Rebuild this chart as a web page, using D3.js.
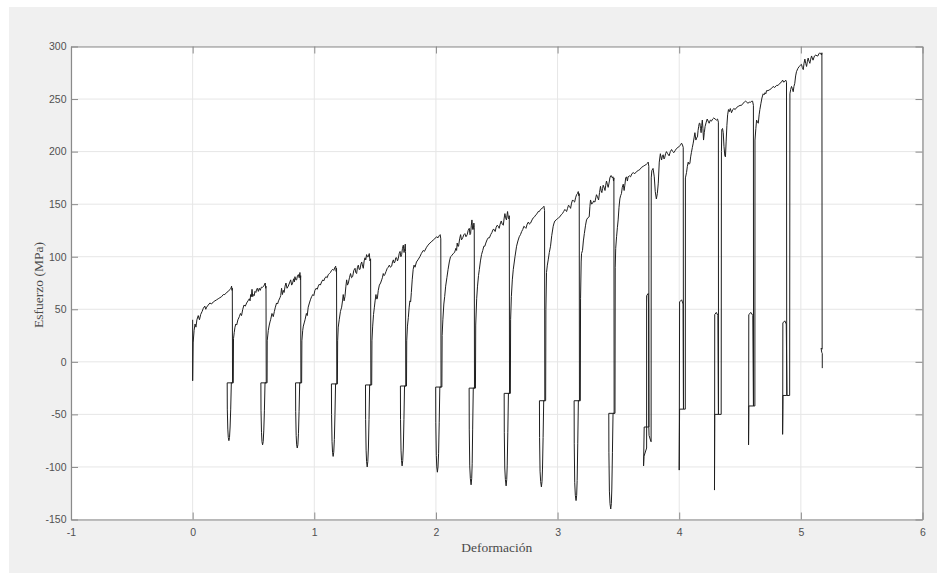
<!DOCTYPE html>
<html>
<head>
<meta charset="utf-8">
<script src="https://cdn.jsdelivr.net/npm/d3@7"></script>
<style>
  html, body { margin: 0; padding: 0; background: #ffffff; }
  svg { display: block; }
</style>
</head>
<body>
<svg id="chart" width="937" height="574"></svg>
<script>
// ---------- data ----------
const xTicks = [-1, 0, 1, 2, 3, 4, 5, 6];
const yTicks = [-150, -100, -50, 0, 50, 100, 150, 200, 250, 300];
const xLabel = "Deformación";
const yLabel = "Esfuerzo (MPa)";

const cycle01 = [[0,40],[0,-18],[0.004,18],[0.012,30],[0.02,36],[0.027,33],[0.035,40],[0.046,44],[0.056,40],[0.066,45],[0.078,48],[0.088,51],[0.1,53],[0.108,50],[0.115,52],[0.128,54],[0.142,56],[0.155,55],[0.17,57],[0.183,58],[0.197,59],[0.21,60],[0.224,61],[0.238,62],[0.252,64],[0.265,64],[0.279,66],[0.293,67],[0.307,69],[0.315,70],[0.32,72],[0.324,68],[0.326,70],
  [0.328,-20],[0.284,-20],[0.285,-45],[0.289,-64],[0.293,-72],[0.298,-75],[0.303,-72],[0.308,-62],[0.313,-45],[0.318,-20],[0.333,-20]];
const cycle02 = [[0.334,-20],[0.336,22],[0.342,28],[0.348,33],[0.355,36],[0.362,35],[0.372,40],[0.384,43],[0.393,46],[0.402,44],[0.412,50],[0.422,54],[0.433,53],[0.444,56],[0.455,58],[0.466,60],[0.472,58],[0.477,64],[0.483,62],[0.488,69],[0.494,62],[0.499,64],[0.506,63],[0.512,67],[0.52,66],[0.526,69],[0.532,70],[0.54,67],[0.548,70],[0.556,68],[0.565,71],[0.576,71],[0.585,72],[0.592,74],[0.597,75],[0.6,70],[0.603,72],
  [0.605,-20],[0.561,-20],[0.562,-46],[0.566,-67],[0.57,-76],[0.575,-79],[0.58,-76],[0.585,-65],[0.59,-46],[0.595,-20],[0.61,-20]];
const cycle03 = [[0.612,-20],[0.613,20],[0.622,30],[0.63,35],[0.636,38],[0.641,40],[0.652,46],[0.658,44],[0.663,43],[0.672,48],[0.68,52],[0.69,56],[0.698,55],[0.706,58],[0.718,61],[0.724,63],[0.731,70],[0.738,64],[0.745,68],[0.752,66],[0.76,72],[0.767,75],[0.776,70],[0.786,72],[0.796,75],[0.806,78],[0.814,73],[0.822,75],[0.83,79],[0.836,76],[0.841,81],[0.848,78],[0.855,78],[0.862,82],[0.869,83],[0.876,80],[0.882,85],[0.886,78],[0.888,82],
  [0.89,-20],[0.846,-20],[0.847,-47],[0.851,-70],[0.855,-79],[0.86,-82],[0.865,-79],[0.87,-68],[0.875,-47],[0.88,-20],[0.896,-20]];
const cycle04 = [[0.896,-20],[0.898,20],[0.905,30],[0.91,34],[0.917,37],[0.924,40],[0.935,46],[0.942,44],[0.95,52],[0.96,56],[0.968,59],[0.978,62],[0.988,64],[0.996,63],[1.005,68],[1.015,70],[1.024,69],[1.033,72],[1.042,74],[1.05,73],[1.06,76],[1.07,78],[1.078,77],[1.088,80],[1.097,81],[1.106,80],[1.115,83],[1.125,84],[1.133,85],[1.142,87],[1.152,88],[1.16,87],[1.17,90],[1.176,91],[1.18,86],[1.183,89],
  [1.185,-21],[1.141,-21],[1.142,-50],[1.146,-76],[1.15,-86],[1.155,-90],[1.16,-86],[1.165,-74],[1.17,-50],[1.175,-21],[1.19,-21]];
const cycle05 = [[1.19,-21],[1.192,20],[1.197,33],[1.205,40],[1.215,48],[1.225,52],[1.232,58],[1.238,64],[1.245,58],[1.252,62],[1.26,72],[1.266,78],[1.273,73],[1.28,75],[1.289,80],[1.298,84],[1.306,80],[1.315,81],[1.325,87],[1.335,89],[1.341,85],[1.348,84],[1.355,90],[1.362,92],[1.369,88],[1.376,88],[1.383,93],[1.39,95],[1.397,91],[1.403,89],[1.41,96],[1.417,99],[1.423,97],[1.43,102],[1.437,100],[1.444,100],[1.452,103],[1.458,96],[1.463,98],
  [1.465,-22],[1.421,-22],[1.422,-55],[1.426,-84],[1.43,-95],[1.435,-100],[1.44,-95],[1.445,-82],[1.45,-55],[1.455,-22],[1.472,-22]];
const cycle06 = [[1.472,-22],[1.474,20],[1.48,34],[1.487,45],[1.494,52],[1.5,58],[1.507,64],[1.512,60],[1.518,60],[1.526,68],[1.535,73],[1.545,75],[1.554,78],[1.56,80],[1.567,84],[1.574,82],[1.58,83],[1.59,86],[1.6,89],[1.608,90],[1.617,92],[1.626,90],[1.636,91],[1.643,95],[1.65,97],[1.657,94],[1.663,95],[1.67,99],[1.677,99],[1.684,96],[1.69,98],[1.698,103],[1.705,105],[1.712,100],[1.718,102],[1.725,108],[1.732,111],[1.738,104],[1.744,108],[1.748,112],[1.75,105],
  [1.752,-23],[1.708,-23],[1.709,-55],[1.713,-84],[1.717,-94],[1.722,-99],[1.727,-94],[1.732,-82],[1.737,-55],[1.742,-23],[1.758,-23]];
const cycle07 = [[1.758,-23],[1.76,20],[1.766,34],[1.773,42],[1.78,52],[1.786,58],[1.792,57],[1.798,66],[1.805,78],[1.813,88],[1.82,92],[1.828,90],[1.84,95],[1.852,97],[1.868,100],[1.88,103],[1.896,106],[1.905,105],[1.923,109],[1.935,111],[1.95,113],[1.962,114],[1.978,116],[1.99,117],[2.005,119],[2.017,118],[2.027,120],[2.035,121],[2.04,117],
  [2.042,-24],[1.998,-24],[1.999,-58],[2.003,-89],[2.007,-100],[2.012,-105],[2.017,-100],[2.022,-87],[2.027,-58],[2.032,-24],[2.049,-24]];
const cycle08 = [[2.049,-24],[2.051,25],[2.057,40],[2.065,55],[2.072,62],[2.08,72],[2.09,80],[2.1,88],[2.11,95],[2.12,100],[2.13,101],[2.142,103],[2.153,104],[2.164,108],[2.17,106],[2.175,113],[2.18,110],[2.186,110],[2.195,117],[2.203,121],[2.21,116],[2.22,118],[2.23,121],[2.238,122],[2.247,119],[2.257,121],[2.265,125],[2.274,127],[2.28,121],[2.285,122],[2.291,130],[2.296,135],[2.302,126],[2.307,126],[2.312,132],[2.315,128],
  [2.317,-25],[2.273,-25],[2.274,-64],[2.278,-99],[2.283,-111],[2.289,-117],[2.294,-111],[2.298,-97],[2.302,-64],[2.307,-25],[2.325,-25]];
const cycle09 = [[2.325,-25],[2.327,35],[2.335,60],[2.342,72],[2.35,82],[2.357,88],[2.366,96],[2.375,102],[2.385,106],[2.394,110],[2.402,110],[2.41,113],[2.42,116],[2.43,118],[2.44,118],[2.45,121],[2.46,123],[2.47,126],[2.478,126],[2.487,124],[2.495,128],[2.504,130],[2.512,129],[2.52,127],[2.528,131],[2.537,134],[2.545,131],[2.554,130],[2.56,136],[2.567,141],[2.573,137],[2.58,135],[2.585,140],[2.589,143],[2.595,137],[2.6,136],[2.603,139],
  [2.605,-30],[2.561,-30],[2.562,-67],[2.566,-101],[2.571,-112],[2.577,-118],[2.582,-112],[2.586,-99],[2.591,-67],[2.596,-30],[2.612,-30]];
const cycle10 = [[2.612,-30],[2.614,40],[2.62,62],[2.628,78],[2.636,88],[2.65,100],[2.663,110],[2.674,115],[2.685,119],[2.695,121],[2.705,124],[2.714,126],[2.723,129],[2.732,128],[2.74,127],[2.75,131],[2.76,133],[2.769,131],[2.778,132],[2.79,135],[2.8,137],[2.811,138],[2.822,140],[2.832,141],[2.841,143],[2.85,143],[2.86,145],[2.872,146],[2.882,147],[2.888,148],[2.893,144],
  [2.895,-37],[2.851,-37],[2.852,-72],[2.856,-104],[2.861,-114],[2.867,-119],[2.872,-114],[2.876,-102],[2.881,-72],[2.886,-37],[2.902,-37]];
const cycle11 = [[2.902,-37],[2.904,50],[2.909,85],[2.916,92],[2.923,97],[2.932,104],[2.942,110],[2.952,120],[2.964,129],[2.971,132],[2.978,134],[2.988,135],[2.997,136],[3.008,137],[3.019,138],[3.03,140],[3.04,141],[3.05,143],[3.06,145],[3.067,144],[3.074,143],[3.082,146],[3.09,149],[3.098,148],[3.107,146],[3.115,151],[3.123,154],[3.131,153],[3.14,152],[3.148,156],[3.156,159],[3.163,160],[3.17,162],[3.175,158],[3.178,160],
  [3.18,-37],[3.136,-37],[3.137,-78],[3.141,-115],[3.146,-127],[3.152,-132],[3.157,-127],[3.161,-113],[3.166,-78],[3.171,-37],[3.187,-37]];
const cycle12 = [[3.187,-37],[3.189,60],[3.194,95],[3.197,103],[3.205,106],[3.212,115],[3.22,122],[3.23,130],[3.238,135],[3.248,137],[3.26,138],[3.266,148],[3.271,154],[3.28,150],[3.288,151],[3.297,153],[3.307,152],[3.314,156],[3.32,159],[3.328,157],[3.337,154],[3.345,161],[3.353,167],[3.358,163],[3.364,161],[3.37,165],[3.375,168],[3.382,166],[3.39,163],[3.396,168],[3.402,172],[3.409,169],[3.416,166],[3.423,170],[3.43,175],[3.437,177],[3.443,177],[3.45,175],[3.456,176],[3.46,172],[3.463,175],
  [3.465,-49],[3.421,-49],[3.422,-86],[3.426,-123],[3.431,-135],[3.437,-140],[3.442,-135],[3.446,-121],[3.451,-86],[3.456,-49],[3.472,-49]];
const cycle13 = [[3.472,-49],[3.474,90],[3.478,108],[3.485,119],[3.492,128],[3.498,135],[3.505,147],[3.512,155],[3.518,158],[3.525,160],[3.532,166],[3.54,169],[3.547,163],[3.553,168],[3.56,175],[3.567,176],[3.574,172],[3.58,176],[3.59,177],[3.6,176],[3.611,179],[3.622,180],[3.635,179],[3.649,181],[3.663,182],[3.677,183],[3.69,185],[3.704,186],[3.718,187],[3.731,188],[3.74,189],[3.745,190],[3.75,186],
  [3.751,-62],[3.712,-62],[3.707,-99],[3.71,-90],[3.732,-82],[3.732,63],[3.745,65],[3.748,55],[3.75,-62],[3.752,-70],[3.768,-76]];
const cycle14 = [[3.769,-76],[3.77,175],[3.775,182],[3.785,184],[3.795,176],[3.803,162],[3.812,155],[3.82,160],[3.828,170],[3.836,190],[3.845,198],[3.855,192],[3.862,196],[3.868,197],[3.875,193],[3.88,194],[3.888,198],[3.895,200],[3.905,198],[3.917,196],[3.927,200],[3.937,202],[3.947,200],[3.956,199],[3.967,201],[3.978,203],[3.99,204],[4.0,205],[4.01,206],[4.019,208],[4.025,207],[4.033,204],
  [4.035,-45],[4.003,-45],[4.0,-103],[4.001,-60],[4.003,57],[4.02,59],[4.032,55],[4.035,-45],[4.05,-45]];
const cycle15 = [[4.05,-45],[4.051,175],[4.06,180],[4.067,186],[4.074,190],[4.081,188],[4.088,189],[4.094,195],[4.1,199],[4.108,204],[4.115,208],[4.122,213],[4.129,218],[4.137,211],[4.143,213],[4.15,214],[4.155,220],[4.16,224],[4.165,227],[4.17,227],[4.175,222],[4.18,218],[4.185,225],[4.19,230],[4.195,222],[4.2,211],[4.206,218],[4.213,224],[4.222,228],[4.23,231],[4.238,229],[4.246,227],[4.256,230],[4.265,229],[4.275,231],[4.284,232],[4.295,231],[4.306,230],[4.315,231],[4.322,228],
  [4.323,-50],[4.292,-50],[4.29,-122],[4.291,-60],[4.292,45],[4.305,47],[4.318,44],[4.322,-50],[4.345,-50]];
const cycle16 = [[4.345,-50],[4.347,200],[4.35,221],[4.356,222],[4.362,218],[4.368,205],[4.375,196],[4.38,195],[4.386,210],[4.392,225],[4.398,235],[4.405,240],[4.412,238],[4.42,241],[4.43,237],[4.44,240],[4.45,241],[4.46,240],[4.472,242],[4.485,243],[4.5,244],[4.512,244],[4.525,246],[4.535,247],[4.546,248],[4.556,247],[4.565,246],[4.576,247],[4.587,247],[4.597,248],[4.603,248],[4.61,244],
  [4.611,-42],[4.572,-42],[4.57,-79],[4.571,-50],[4.572,45],[4.59,47],[4.605,44],[4.61,-42],[4.622,-42]];
const cycle17 = [[4.622,-42],[4.623,211],[4.63,222],[4.636,230],[4.643,228],[4.65,227],[4.657,235],[4.663,240],[4.672,246],[4.68,251],[4.69,255],[4.698,254],[4.705,256],[4.712,255],[4.718,258],[4.73,258],[4.745,259],[4.758,260],[4.772,262],[4.785,261],[4.8,263],[4.813,263],[4.827,265],[4.84,266],[4.85,268],[4.86,266],[4.868,267],[4.876,268],[4.882,266],
  [4.884,-32],[4.853,-32],[4.85,-69],[4.851,-45],[4.852,37],[4.868,39],[4.88,36],[4.886,-32],[4.908,-32]];
const cycle18 = [[4.908,-32],[4.91,255],[4.916,259],[4.923,262],[4.93,260],[4.937,257],[4.943,262],[4.95,265],[4.957,272],[4.964,276],[4.975,279],[4.986,281],[4.995,282],[5.005,283],[5.012,280],[5.02,278],[5.026,284],[5.033,288],[5.04,284],[5.047,281],[5.054,286],[5.06,289],[5.067,286],[5.074,284],[5.081,288],[5.088,291],[5.094,289],[5.1,287],[5.112,291],[5.124,292],[5.132,291],[5.14,291],[5.148,293],[5.156,294],[5.163,293],[5.17,292],[5.173,294],
  [5.175,12],[5.166,13],[5.172,9],[5.176,8],[5.176,-6]];

const cycles = [cycle01, cycle02, cycle03, cycle04, cycle05, cycle06, cycle07, cycle08, cycle09,
                cycle10, cycle11, cycle12, cycle13, cycle14, cycle15, cycle16, cycle17, cycle18];

// ---------- layout ----------
const W = 937, H = 574;
const plot = { left: 71, right: 922.5, top: 46.5, bottom: 519.5 };

const svg = d3.select("#chart");

svg.append("rect").attr("x", 9).attr("y", 7).attr("width", W - 9).attr("height", 566)
  .attr("fill", "#f0f0f0");
svg.append("rect").attr("x", plot.left).attr("y", plot.top)
  .attr("width", plot.right - plot.left).attr("height", plot.bottom - plot.top)
  .attr("fill", "#ffffff");

const x = d3.scaleLinear().domain([-1, 6]).range([plot.left, plot.right]);
const y = d3.scaleLinear().domain([-150, 300]).range([plot.bottom, plot.top]);

// grid
const grid = svg.append("g").attr("stroke", "#e6e6e6").attr("stroke-width", 1);
xTicks.forEach(t => {
  grid.append("line").attr("x1", x(t)).attr("x2", x(t)).attr("y1", plot.top).attr("y2", plot.bottom);
});
yTicks.forEach(t => {
  grid.append("line").attr("y1", y(t)).attr("y2", y(t)).attr("x1", plot.left).attr("x2", plot.right);
});

// data line
svg.append("clipPath").attr("id", "clip").append("rect")
  .attr("x", plot.left).attr("y", plot.top)
  .attr("width", plot.right - plot.left).attr("height", plot.bottom - plot.top);

const line = d3.line().x(d => x(d[0])).y(d => y(d[1]));
svg.append("path")
  .datum([].concat(...cycles))
  .attr("clip-path", "url(#clip)")
  .attr("fill", "none")
  .attr("stroke", "#1f1f1f")
  .attr("stroke-width", 1)
  .attr("stroke-linejoin", "round")
  .attr("d", line);

// axes (MATLAB style box, inward ticks)
const axisColor = "#8a8a8a";
const tickLen = 7;
const fontSans = "'Liberation Sans', Arial, Helvetica, sans-serif";
const fmt = d => String(d);   // plain hyphen-minus like the reference

const xAxisB = d3.axisBottom(x).tickValues(xTicks).tickSizeInner(-tickLen).tickSizeOuter(0).tickPadding(9).tickFormat(fmt);
const xAxisT = d3.axisTop(x).tickValues(xTicks).tickSizeInner(-tickLen).tickSizeOuter(0).tickFormat("");
const yAxisL = d3.axisLeft(y).tickValues(yTicks).tickSizeInner(-tickLen).tickSizeOuter(0).tickPadding(4.5).tickFormat(fmt);
const yAxisR = d3.axisRight(y).tickValues(yTicks).tickSizeInner(-tickLen).tickSizeOuter(0).tickFormat("");

function styleAxis(g) {
  g.select(".domain").attr("stroke", axisColor).attr("stroke-width", 1.2);
  g.selectAll(".tick line").attr("stroke", axisColor).attr("stroke-width", 1);
  g.selectAll(".tick text").attr("fill", "#505050").style("font-family", fontSans).style("font-size", "10.5px");
}

svg.append("g").attr("transform", `translate(0,${plot.bottom})`).call(xAxisB).call(styleAxis);
svg.append("g").attr("transform", `translate(0,${plot.top})`).call(xAxisT).call(styleAxis);
svg.append("g").attr("transform", `translate(${plot.left},0)`).call(yAxisL).call(styleAxis);
svg.append("g").attr("transform", `translate(${plot.right},0)`).call(yAxisR).call(styleAxis);

// labels
const fontSerif = "'Liberation Serif', 'Times New Roman', Times, serif";
svg.append("text")
  .attr("x", (plot.left + plot.right) / 2).attr("y", 552)
  .attr("text-anchor", "middle")
  .attr("fill", "#4a4a4a")
  .style("font-family", fontSerif).style("font-size", "13.5px")
  .text(xLabel);

svg.append("text")
  .attr("transform", `translate(42.5,${(plot.top + plot.bottom) / 2 + 2}) rotate(-90)`)
  .attr("text-anchor", "middle")
  .attr("fill", "#4a4a4a")
  .style("font-family", fontSerif).style("font-size", "13.5px")
  .text(yLabel);
</script>
</body>
</html>
